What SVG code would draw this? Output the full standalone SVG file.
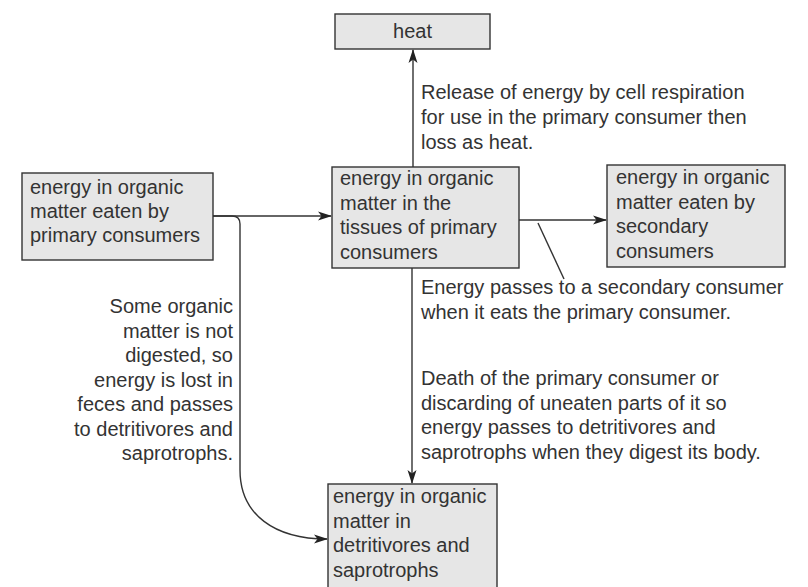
<svg xmlns="http://www.w3.org/2000/svg" width="808" height="587" viewBox="0 0 808 587">
<defs>
<marker id="ah" markerUnits="userSpaceOnUse" markerWidth="14" markerHeight="10" viewBox="0 0 14 10" refX="13" refY="5" orient="auto">
<path d="M0,0.5 L14,5 L0,9.5 L3.5,5 z" fill="#222"/>
</marker>
<style>
.box{fill:#e6e6e6;stroke:#333;stroke-width:1.4}
.t{font-family:"Liberation Sans",Arial,sans-serif;font-size:20px;fill:#333}
.c{fill:none;stroke:#333;stroke-width:1.4}
</style>
</defs>
<rect width="808" height="587" fill="#fff"/>
<g id="connectors">
<line class="c" x1="413" y1="167" x2="413" y2="50" marker-end="url(#ah)"/>
<line class="c" x1="213" y1="216" x2="331" y2="216" marker-end="url(#ah)"/>
<path class="c" d="M213,216 H232 Q240,216 240,224 V470 C240,515 275,539 327,539" marker-end="url(#ah)"/>
<line class="c" x1="519" y1="220" x2="606" y2="220" marker-end="url(#ah)"/>
<line class="c" x1="412" y1="268" x2="412" y2="483" marker-end="url(#ah)"/>
<line class="c" x1="538" y1="223" x2="564" y2="279"/>
</g>
<g id="heat">
<rect class="box" x="335" y="14" width="155" height="35"/>
<text class="t" x="412.5" y="38" text-anchor="middle">heat</text>
</g>
<g id="primary-eaten">
<rect class="box" x="22" y="173" width="191" height="87"/>
<text class="t" x="30" y="194">energy in organic</text>
<text class="t" x="30" y="218">matter eaten by</text>
<text class="t" x="30" y="242">primary consumers</text>
</g>
<g id="primary-tissues">
<rect class="box" x="332" y="167" width="187" height="101"/>
<text class="t" x="340" y="185">energy in organic</text>
<text class="t" x="340" y="209.5">matter in the</text>
<text class="t" x="340" y="234">tissues of primary</text>
<text class="t" x="340" y="258.5">consumers</text>
</g>
<g id="secondary">
<rect class="box" x="607" y="165" width="178" height="102"/>
<text class="t" x="616" y="184">energy in organic</text>
<text class="t" x="616" y="208.5">matter eaten by</text>
<text class="t" x="616" y="233">secondary</text>
<text class="t" x="616" y="257.5">consumers</text>
</g>
<g id="detritivores">
<rect class="box" x="328" y="484" width="169" height="106"/>
<text class="t" x="333" y="503">energy in organic</text>
<text class="t" x="333" y="527.5">matter in</text>
<text class="t" x="333" y="552">detritivores and</text>
<text class="t" x="333" y="576.5">saprotrophs</text>
</g>
<g id="label-heat">
<text class="t" x="421" y="99">Release of energy by cell respiration</text>
<text class="t" x="421" y="124">for use in the primary consumer then</text>
<text class="t" x="421" y="149">loss as heat.</text>
</g>
<g id="label-secondary">
<text class="t" x="421" y="294">Energy passes to a secondary consumer</text>
<text class="t" x="421" y="318.5">when it eats the primary consumer.</text>
</g>
<g id="label-death">
<text class="t" x="421" y="385">Death of the primary consumer or</text>
<text class="t" x="421" y="409.5">discarding of uneaten parts of it so</text>
<text class="t" x="421" y="434">energy passes to detritivores and</text>
<text class="t" x="421" y="458.5">saprotrophs when they digest its body.</text>
</g>
<g id="label-feces">
<text class="t" x="233" y="313" text-anchor="end">Some organic</text>
<text class="t" x="233" y="337.5" text-anchor="end">matter is not</text>
<text class="t" x="233" y="362" text-anchor="end">digested, so</text>
<text class="t" x="233" y="386.5" text-anchor="end">energy is lost in</text>
<text class="t" x="233" y="411" text-anchor="end">feces and passes</text>
<text class="t" x="233" y="435.5" text-anchor="end">to detritivores and</text>
<text class="t" x="233" y="460" text-anchor="end">saprotrophs.</text>
</g>
</svg>
